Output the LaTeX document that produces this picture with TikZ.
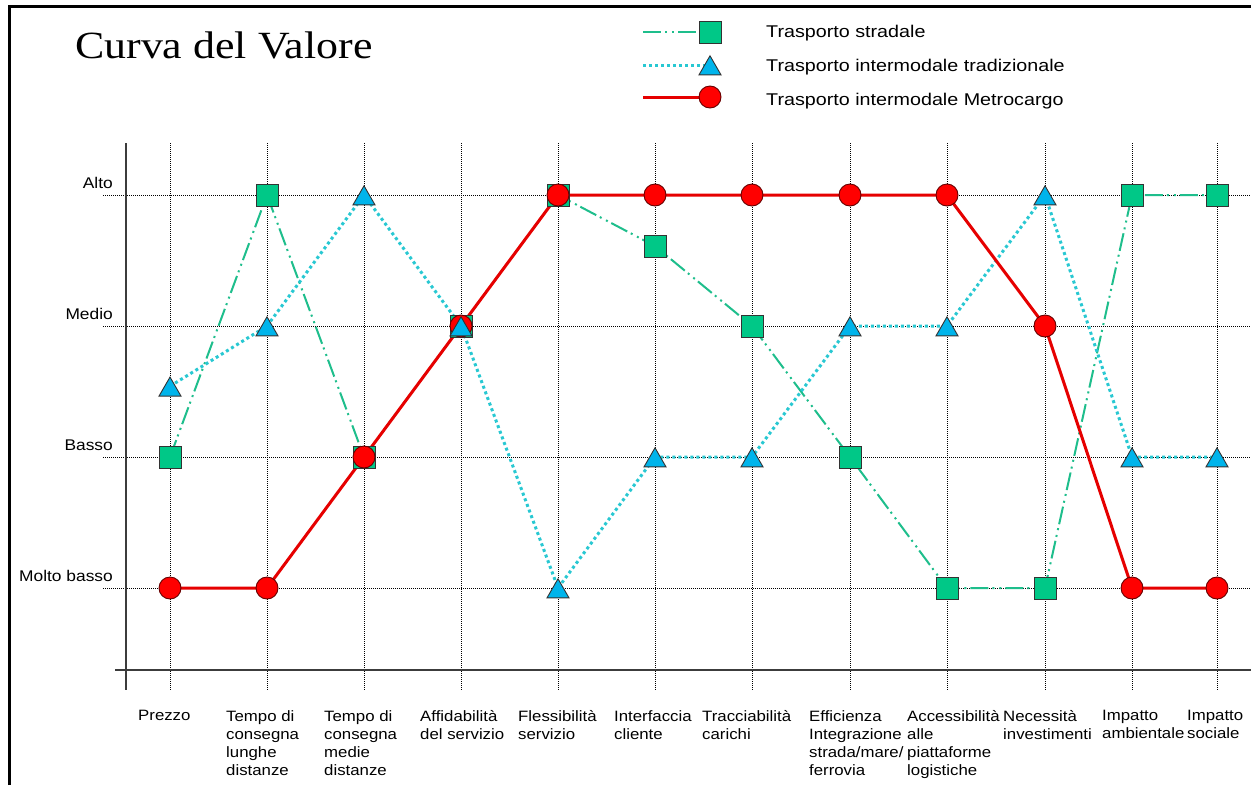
\documentclass[tikz,border=0pt]{standalone}
\usepackage{fontspec}
\setmainfont{Liberation Sans}
\newfontfamily\labfont[FakeStretch=1.12]{Liberation Sans}
\newfontfamily\legfont[FakeStretch=1.16]{Liberation Sans}
\newfontfamily\titfont[FakeStretch=1.14]{Liberation Serif}
\usetikzlibrary{shapes.geometric}
\definecolor{sqfill}{RGB}{0,200,135}
\definecolor{gline}{RGB}{30,190,140}
\definecolor{trifill}{RGB}{0,180,235}
\definecolor{cline}{RGB}{40,200,210}
\definecolor{rfill}{RGB}{255,0,0}
\definecolor{rline}{RGB}{230,0,0}
\definecolor{axisc}{RGB}{60,60,60}
\begin{document}
\begin{tikzpicture}[x=1pt,y=-1pt,
  gridln/.style={black, line width=0.8pt, dash pattern=on 1pt off 1pt},
  axisln/.style={axisc, line width=1.3pt},
  greenln/.style={gline, line width=2pt, dash pattern=on 18pt off 4pt on 2pt off 5pt on 2pt off 4pt},
  cyanln/.style={cline, line width=3pt, dash pattern=on 3pt off 3pt},
  redln/.style={rline, line width=3pt},
  sqm/.style={rectangle, draw=black!80, line width=0.9pt, fill=sqfill, minimum size=22pt, inner sep=0pt},
  trim/.style={regular polygon, regular polygon sides=3, draw=black!80, line width=0.9pt, fill=trifill, minimum size=25.4pt, inner sep=0pt, yshift=-3.5pt},
  cim/.style={circle, draw=black!60!red, line width=0.9pt, fill=rfill, minimum size=22pt, inner sep=0pt},
  catlab/.style={anchor=north west, align=left, inner sep=0pt, font=\labfont\fontsize{15}{18}\selectfont},
  lvllab/.style={anchor=base east, inner sep=0pt, font=\labfont\fontsize{15.5}{18}\selectfont},
  leglab/.style={anchor=base west, inner sep=0pt, font=\legfont\fontsize{17}{20}\selectfont}
]
\useasboundingbox (0,0) rectangle (1251,785);
\fill[white] (0,0) rectangle (1251,785);
% frame
\draw[line width=3pt] (9.5,785) -- (9.5,6.5) -- (1251,6.5);
% title
\node[anchor=base west, inner sep=0pt, font=\titfont\fontsize{38.5}{40}\selectfont] (title) at (75,58) {Curva del Valore};
% grid
\foreach \y in {195,326,457,588} \draw[gridln] (103,\y) -- (1251,\y);
\foreach \x in {170,267,364,461,558,655,752,850,947,1045,1132,1217} \draw[gridln] (\x,143) -- (\x,690);
% axes
\draw[axisln] (126,143) -- (126,690);
\draw[axisln] (115,670) -- (1251,670);
% level labels
\node[lvllab] (alto) at (113,188) {Alto};
\node[lvllab] (medio) at (113,319) {Medio};
\node[lvllab] (basso) at (113,450) {Basso};
\node[lvllab] (mbasso) at (113,581) {Molto basso};
% category labels
\node[catlab] (k1) at (138,710) {Prezzo};
\node[catlab] (k2) at (226,710) {Tempo di\\consegna\\lunghe\\distanze};
\node[catlab] (k3) at (324,710) {Tempo di\\consegna\\medie\\distanze};
\node[catlab] (k4) at (420,710) {Affidabilità\\del servizio};
\node[catlab] (k5) at (518,710) {Flessibilità\\servizio};
\node[catlab] (k6) at (614,710) {Interfaccia\\cliente};
\node[catlab] (k7) at (702,710) {Tracciabilità\\carichi};
\node[catlab] (k8) at (809,710) {Efficienza\\Integrazione\\strada/mare/\\ferrovia};
\node[catlab] (k9) at (907,710) {Accessibilità\\alle\\piattaforme\\logistiche};
\node[catlab] (k10) at (1003,710) {Necessità\\investimenti};
\node[catlab] (k11) at (1102,710) {Impatto\\ambientale};
\node[catlab] (k12) at (1187,710) {Impatto\\sociale};
% data points
\foreach \x/\a/\b/\c [count=\i] in {170/2/2.54/1, 267/4/3/1, 364/2/4/2, 461/3/3/3, 558/4/1/4, 655/3.61/2/4, 752/3/2/4, 850/2/3/4, 947/1/3/4, 1045/1/4/3, 1132/4/2/1, 1217/4/2/1}{
  \coordinate (s\i) at (\x,{588-(\a-1)*131});
  \coordinate (t\i) at (\x,{588-(\b-1)*131});
  \coordinate (c\i) at (\x,{588-(\c-1)*131});
}
% series lines
\draw[greenln] (s1) \foreach \i in {2,...,12}{ -- (s\i)};
\draw[cyanln] (t1) \foreach \i in {2,...,12}{ -- (t\i)};
\draw[redln] (c1) \foreach \i in {2,...,12}{ -- (c\i)};
% markers
\foreach \i in {1,...,12} \node[sqm] (S\i) at (s\i) {};
\foreach \i in {1,...,12} \node[cim] (C\i) at (c\i) {};
\foreach \i in {1,...,12} \node[trim] (T\i) at (t\i) {};
% legend
\coordinate (la) at (643,32);
\coordinate (lb) at (643,65);
\coordinate (lc) at (643,97);
\coordinate (lsq) at (710,32);
\coordinate (ltr) at (710,65);
\coordinate (lci) at (710,97);
\draw[greenln] (la) -- (lsq);
\draw[cyanln] (lb) -- (ltr);
\draw[redln] (lc) -- (lci);
\node[sqm] (LS) at (lsq) {};
\node[trim] (LT) at (ltr) {};
\node[cim] (LC) at (lci) {};
\node[leglab] (l1) at (766,37) {Trasporto stradale};
\node[leglab] (l2) at (766,71) {Trasporto intermodale tradizionale};
\node[leglab] (l3) at (766,105) {Trasporto intermodale Metrocargo};
\end{tikzpicture}
\end{document}
